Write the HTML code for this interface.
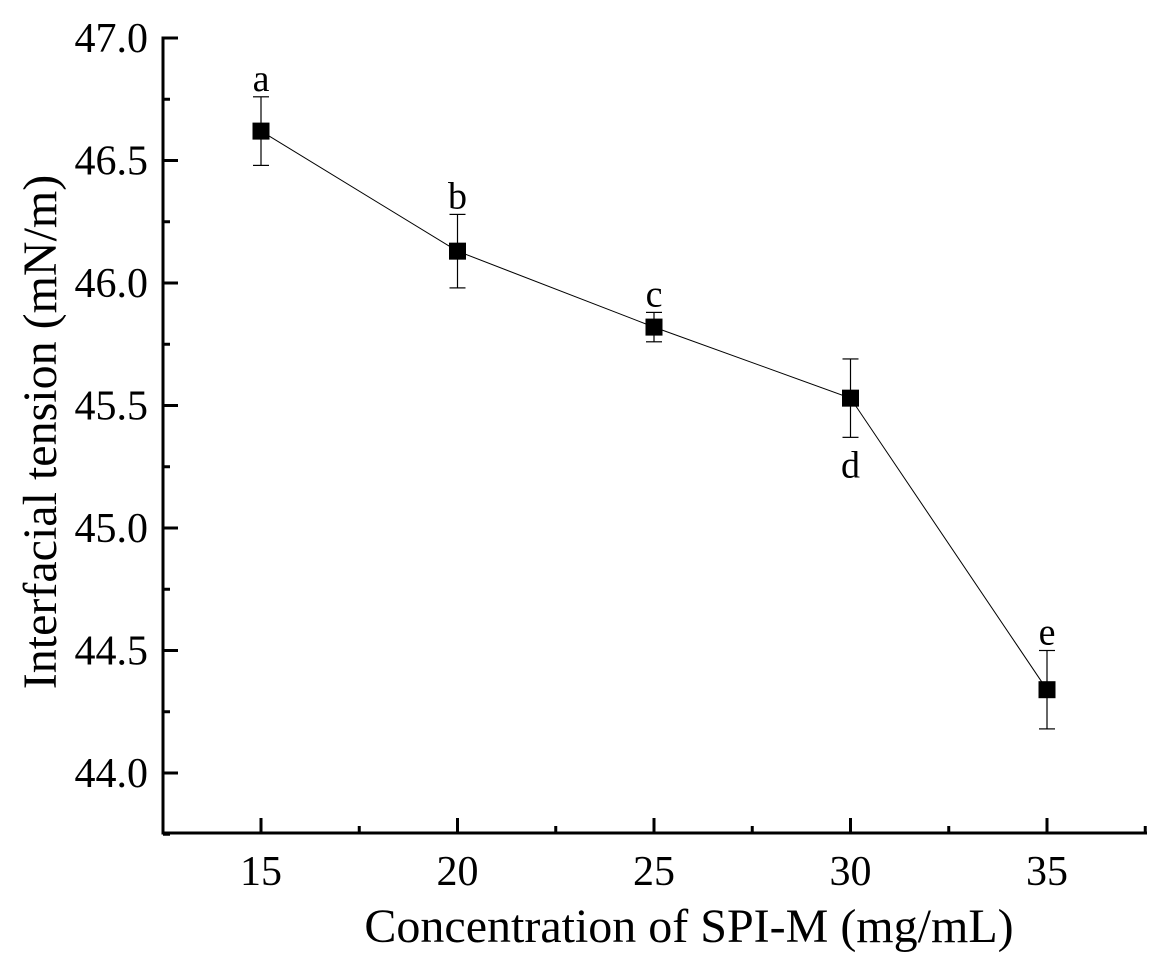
<!DOCTYPE html>
<html><head><meta charset="utf-8"><style>
body{margin:0;background:#fff}
svg text{font-family:"Liberation Serif",serif;fill:#000}
</style></head><body>
<svg id="chart" width="1164" height="969" xmlns="http://www.w3.org/2000/svg"></svg>
<script>
const categories=[15,20,25,30,35];
const values=[46.62,46.13,45.82,45.53,44.34];
const errors=[0.14,0.15,0.06,0.16,0.16];
const letters=['a','b','c','d','e'];
const letterBelow=[false,false,false,true,false];
const yTicks=[44.0,44.5,45.0,45.5,46.0,46.5,47.0];
const xTicks=[15,20,25,30,35];
const NS='http://www.w3.org/2000/svg';
const svg=document.getElementById('chart');
const X=v=>261+(v-15)*39.3;
const Y=v=>38+(47-v)*245;
function el(t,a,p){const e=document.createElementNS(NS,t);for(const k in a)e.setAttribute(k,a[k]);(p||svg).appendChild(e);return e;}
const axes=el('g',{});


el('line',{x1:163,y1:36.5,x2:163,y2:834.5,stroke:'#000','stroke-width':3},axes);
el('line',{x1:161.5,y1:833,x2:1147,y2:833,stroke:'#000','stroke-width':3},axes);
yTicks.forEach((v,i)=>{
  el('line',{x1:163,y1:Y(v),x2:178,y2:Y(v),stroke:'#000','stroke-width':3},axes);
  if(i<yTicks.length-1) el('line',{x1:163,y1:Y(v+0.25),x2:170,y2:Y(v+0.25),stroke:'#000','stroke-width':3},axes);
  const t=el('text',{x:148,y:Y(v)+14,'text-anchor':'end','font-size':42},axes);t.textContent=v.toFixed(1);
  
  
});
el('line',{x1:163,y1:Y(43.75),x2:170,y2:Y(43.75),stroke:'#000','stroke-width':3},axes);
xTicks.forEach((v,i)=>{
  el('line',{x1:X(v),y1:833,x2:X(v),y2:818,stroke:'#000','stroke-width':3},axes);
  el('line',{x1:X(v+2.5),y1:833,x2:X(v+2.5),y2:826,stroke:'#000','stroke-width':3},axes);
  const t=el('text',{x:X(v),y:885,'text-anchor':'middle','font-size':42},axes);t.textContent=v;
  
  
});
const xt=el('text',{x:689,y:942,'text-anchor':'middle','font-size':48});xt.textContent='Concentration of SPI-M (mg/mL)';


const yt=el('text',{x:0,y:0,'text-anchor':'middle','font-size':48,transform:'translate(56,432) rotate(-90)'});yt.textContent='Interfacial tension (mN/m)';


const pts=categories.map((c,i)=>X(c)+','+Y(values[i])).join(' ');
const line=el('polyline',{points:pts,fill:'none',stroke:'#000','stroke-width':1});


categories.forEach((c,i)=>{
  const x=X(c),y=Y(values[i]),t=Y(values[i]+errors[i]),b=Y(values[i]-errors[i]);
  const g=el('g',{});
  
  
  el('line',{x1:x,y1:t,x2:x,y2:b,stroke:'#000','stroke-width':1.2},g);
  el('line',{x1:x-8,y1:t,x2:x+8,y2:t,stroke:'#000','stroke-width':1.2},g);
  el('line',{x1:x-8,y1:b,x2:x+8,y2:b,stroke:'#000','stroke-width':1.2},g);
  el('rect',{x:x-8.5,y:y-8.5,width:17,height:17,fill:'#000'},g);
  const ly=letterBelow[i]?b+40:t-6;
  const l=el('text',{x:x,y:ly,'text-anchor':'middle','font-size':38},g);l.textContent=letters[i];
  
  
});
</script>
</body></html>
